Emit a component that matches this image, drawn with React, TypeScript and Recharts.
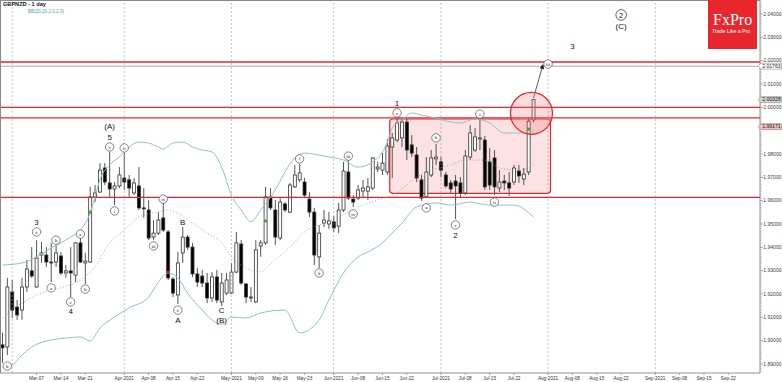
import React from 'react';
import { ComposedChart, Bar, Line, XAxis, YAxis, ReferenceLine, ReferenceArea, ReferenceDot } from 'recharts';

// daily sessions 25 Feb .. 30 Sep 2021 (the right half of the axis is still empty)
const sessions: string[] = [];
for (let t = Date.UTC(2021, 1, 25); sessions.length < 156; t += 86400000) {
  const wd = new Date(t).getUTCDay();
  if (wd !== 0 && wd !== 6) sessions.push(new Date(t).toISOString().slice(0, 10));
}

const opens = [1.8982,1.8973,1.9209,1.9144,1.9131,1.9230,1.9299,1.9230,1.9367,1.9367,
  1.9337,1.9337,1.9363,1.9290,1.9299,1.9281,1.9419,1.9333,1.9337,1.9616,
  1.9637,1.9740,1.9676,1.9650,1.9663,1.9697,1.9689,1.9633,1.9663,1.9569,
  1.9560,1.9444,1.9461,1.9526,1.9466,1.9264,1.9196,1.9376,1.9444,1.9401,
  1.9286,1.9277,1.9247,1.9183,1.9273,1.9166,1.9204,1.9204,1.9294,1.9414,
  1.9243,1.9183,1.9166,1.9406,1.9419,1.9616,1.9560,1.9440,1.9586,1.9551,
  1.9659,1.9689,1.9680,1.9607,1.9551,1.9359,1.9504,1.9500,1.9509,1.9491,
  1.9560,1.9723,1.9607,1.9611,1.9641,1.9641,1.9654,1.9736,1.9731,1.9723,
  1.9830,1.9860,1.9869,1.9937,1.9839,1.9796,1.9689,1.9616,1.9710,1.9779,
  1.9766,1.9710,1.9676,1.9684,1.9676,1.9633,1.9787,1.9817,1.9864,1.9860,
  1.9766,1.9783,1.9654,1.9684,1.9676,1.9680,1.9727,1.9693,1.9723,1.9946];
const highs = [1.9034,1.9269,1.9260,1.9174,1.9269,1.9346,1.9401,1.9431,1.9423,1.9401,
  1.9419,1.9410,1.9380,1.9324,1.9401,1.9423,1.9440,1.9376,1.9659,1.9667,
  1.9761,1.9761,1.9809,1.9680,1.9744,1.9804,1.9710,1.9697,1.9744,1.9654,
  1.9603,1.9517,1.9551,1.9590,1.9474,1.9273,1.9380,1.9487,1.9453,1.9419,
  1.9311,1.9303,1.9290,1.9294,1.9303,1.9290,1.9290,1.9333,1.9466,1.9431,
  1.9247,1.9230,1.9431,1.9431,1.9659,1.9654,1.9603,1.9611,1.9594,1.9676,
  1.9753,1.9757,1.9697,1.9637,1.9569,1.9496,1.9560,1.9551,1.9534,1.9590,
  1.9766,1.9774,1.9624,1.9667,1.9689,1.9697,1.9787,1.9766,1.9804,1.9864,
  1.9890,1.9954,1.9950,1.9950,1.9881,1.9830,1.9710,1.9787,1.9817,1.9843,
  1.9787,1.9723,1.9689,1.9710,1.9701,1.9817,1.9924,1.9911,1.9959,1.9877,
  1.9826,1.9817,1.9731,1.9710,1.9723,1.9753,1.9753,1.9740,1.9954,2.0036];
const lows = [1.8904,1.8939,1.9097,1.9089,1.9089,1.9209,1.9269,1.9226,1.9333,1.9316,
  1.9251,1.9316,1.9281,1.9269,1.9187,1.9251,1.9333,1.9243,1.9333,1.9594,
  1.9633,1.9667,1.9616,1.9581,1.9654,1.9646,1.9616,1.9624,1.9560,1.9526,
  1.9431,1.9431,1.9453,1.9466,1.9260,1.9187,1.9157,1.9333,1.9389,1.9273,
  1.9230,1.9230,1.9161,1.9166,1.9161,1.9148,1.9196,1.9200,1.9290,1.9239,
  1.9161,1.9166,1.9161,1.9359,1.9410,1.9560,1.9410,1.9431,1.9551,1.9547,
  1.9654,1.9680,1.9616,1.9530,1.9324,1.9311,1.9487,1.9479,1.9466,1.9461,
  1.9551,1.9603,1.9573,1.9603,1.9616,1.9603,1.9646,1.9723,1.9710,1.9710,
  1.9697,1.9851,1.9830,1.9774,1.9787,1.9680,1.9599,1.9611,1.9701,1.9753,
  1.9701,1.9654,1.9633,1.9521,1.9616,1.9624,1.9774,1.9809,1.9817,1.9646,
  1.9646,1.9624,1.9637,1.9646,1.9620,1.9667,1.9676,1.9667,1.9710,1.9935];
const closes = [1.8969,1.9230,1.9131,1.9110,1.9230,1.9307,1.9277,1.9354,1.9376,1.9337,
  1.9333,1.9376,1.9290,1.9299,1.9290,1.9419,1.9337,1.9341,1.9616,1.9633,
  1.9731,1.9680,1.9650,1.9663,1.9710,1.9680,1.9654,1.9676,1.9569,1.9565,
  1.9440,1.9461,1.9517,1.9474,1.9269,1.9204,1.9333,1.9444,1.9401,1.9286,
  1.9251,1.9247,1.9183,1.9273,1.9174,1.9247,1.9260,1.9294,1.9419,1.9247,
  1.9187,1.9187,1.9389,1.9419,1.9616,1.9569,1.9444,1.9594,1.9560,1.9667,
  1.9710,1.9719,1.9624,1.9551,1.9367,1.9461,1.9517,1.9513,1.9483,1.9560,
  1.9727,1.9611,1.9594,1.9646,1.9654,1.9659,1.9783,1.9744,1.9761,1.9834,
  1.9869,1.9933,1.9937,1.9817,1.9804,1.9697,1.9611,1.9723,1.9783,1.9787,
  1.9731,1.9663,1.9650,1.9663,1.9633,1.9791,1.9890,1.9873,1.9869,1.9659,
  1.9667,1.9659,1.9680,1.9676,1.9654,1.9740,1.9706,1.9714,1.9941,2.0033];

// Bollinger band readings: [session index, price]
const upperBand: [number, number][] = [[0,1.9324],[4,1.9333],[7,1.9359],[10,1.9397],[14,1.9444],[16,1.9474],[18,1.9547],[19,1.9616],[20,1.9689],[22,1.9753],[24,1.9787],[26,1.9830],[28,1.9851],[30,1.9847],[32,1.9830],[33,1.9821],[35,1.9847],[37,1.9851],[39,1.9830],[41,1.9817],[43,1.9809],[45,1.9744],[47,1.9624],[49,1.9560],[51,1.9509],[53,1.9560],[56,1.9646],[58,1.9723],[60,1.9783],[62,1.9804],[66,1.9791],[70,1.9774],[73,1.9744],[77,1.9783],[79,1.9851],[80,1.9911],[82,1.9946],[84,1.9976],[86,1.9967],[89,1.9954],[92,1.9937],[94,1.9933],[97,1.9950],[100,1.9933],[103,1.9890],[105,1.9890],[108,1.9890],[109,1.9903]];
const midBand: [number, number][] = [[0,1.9097],[4,1.9161],[8,1.9204],[12,1.9226],[16,1.9260],[19,1.9316],[22,1.9419],[25,1.9474],[28,1.9530],[32,1.9551],[34,1.9560],[36,1.9547],[39,1.9504],[42,1.9461],[45,1.9419],[47,1.9359],[50,1.9311],[53,1.9295],[55,1.9330],[59,1.9401],[62,1.9466],[66,1.9504],[70,1.9539],[73,1.9573],[77,1.9603],[80,1.9624],[83,1.9667],[85,1.9701],[88,1.9731],[92,1.9753],[95,1.9774],[99,1.9774],[102,1.9740],[106,1.9731],[109,1.9753]];
const lowerBand: [number, number][] = [[0,1.8887],[2,1.8896],[4,1.8939],[6,1.8973],[10,1.9003],[13,1.9011],[16,1.9016],[18,1.8999],[20,1.9054],[23,1.9101],[26,1.9140],[30,1.9187],[32,1.9251],[34,1.9290],[36,1.9269],[38,1.9204],[41,1.9131],[43,1.9089],[45,1.9071],[47,1.9101],[50,1.9097],[53,1.9119],[58,1.9131],[61,1.9033],[65,1.9089],[67,1.9174],[70,1.9290],[73,1.9359],[75,1.9380],[78,1.9419],[80,1.9461],[82,1.9504],[85,1.9573],[89,1.9590],[92,1.9581],[96,1.9594],[100,1.9581],[105,1.9581],[109,1.9530]];

const tickDays = ['2021-03-08','2021-03-15','2021-03-22','2021-04-01','2021-04-08','2021-04-15','2021-04-22','2021-05-03','2021-05-10','2021-05-17','2021-05-24','2021-06-01','2021-06-08','2021-06-15','2021-06-22','2021-07-01','2021-07-08','2021-07-15','2021-07-22','2021-08-02','2021-08-09','2021-08-16','2021-08-23','2021-09-01','2021-09-08','2021-09-15','2021-09-22'];
const tickNames = ['Mar-07','Mar-14','Mar-21','Apr-2021','Apr-08','Apr-15','Apr-22','May-2021','May-09','May-16','May-23','Jun-2021','Jun-08','Jun-15','Jun-22','Jul-2021','Jul-08','Jul-15','Jul-22','Aug-2021','Aug-08','Aug-15','Aug-22','Sep-2021','Sep-08','Sep-15','Sep-22'];
const monthStarts = ['2021-03-01','2021-04-01','2021-05-03','2021-06-01','2021-07-01','2021-08-02','2021-09-01'];

// 1.99000 sits under the 1.99171 tag, so it is left out
const priceTicks = [1.89,1.90,1.91,1.92,1.93,1.94,1.95,1.96,1.97,1.98,2.00,2.01,2.02,2.03,2.04];
const tagPrices = [2.01763, 2.00328, 1.99171];
const tagFills = ['#ffffff', '#d4d4d4', '#f3bcbc'];
const redLevels = [2.0194, 2.0, 1.9955, 1.9614];
const greyLevel = 2.01763;

// wave marks: [session index, price, text]
const ringMarks: [number, number, string][] = [
  [22,1.9830,'c'],[25,1.9826,'ii'],[23,1.9556,'i'],[33,1.9607,'iv'],[31,1.9406,'iii'],[36,1.9131,'v'],
  [7,1.9466,'c'],[11,1.9431,'b'],[16,1.9457,'a'],[10,1.9226,'a'],[14,1.9166,'c'],[17,1.9221,'b'],[1,1.8891,'b'],
  [61,1.9779,'i'],[81,1.9976,'v'],[71,1.9791,'iii'],[72,1.9543,'iv'],[65,1.9290,'ii'],
  [98,1.9971,'i'],[89,1.9869,'b'],[87,1.9569,'a'],[93,1.9496,'c'],[101,1.9594,'ii'],[112,2.0186,'iii'],
];
const waveTexts: [number, number, string][] = [
  [22,1.9920,'(A)'],[22,1.9873,'5'],[37,1.9509,'B'],[36,1.9089,'A'],[45,1.9131,'C'],[45,1.9089,'(B)'],
  [7,1.9509,'3'],[14,1.9127,'4'],[81,2.0019,'1'],[93,1.9453,'2'],[117,2.0263,'3'],[127,2.0349,'(C)'],
];
const bigRing: [number, number, string] = [127, 2.0396, '2'];
const greenSignals: [number, number][] = [[18,1.9551],[54,1.9513],[108,1.9907]];
const redSignals: [number, number][] = [[34,1.9294]];

const minorTicks: number[] = [];
for (let k = 1887; k <= 2045; k++) if (k % 10 !== 0) minorTicks.push(k / 1000);
const yTicks = [...minorTicks, ...priceTicks, ...tagPrices];

const bandAt = (pts: [number, number][], i: number) => {
  const hit = pts.find((p) => p[0] === i);
  return hit ? hit[1] : null;
};

const rows = sessions.map((d, i) => ({
  d,
  o: i < opens.length ? opens[i] : null,
  h: i < opens.length ? highs[i] : null,
  l: i < opens.length ? lows[i] : null,
  c: i < opens.length ? closes[i] : null,
  range: i < opens.length ? [lows[i], highs[i]] : null,
  ub: bandAt(upperBand, i),
  mb: bandAt(midBand, i),
  lb: bandAt(lowerBand, i),
}));

const FONT = 'Liberation Sans, Arial, sans-serif';

const Candle = (props: any) => {
  const { x, y, width, height, payload } = props;
  if (!payload || payload.o == null) return null;
  const { o, h, l, c } = payload;
  const top = Math.min(y, y + height);
  const hh = Math.abs(height);
  const py = (v: number) => (h === l ? top : top + ((h - v) / (h - l)) * hh);
  const cx = x + width / 2;
  const bt = py(Math.max(o, c));
  const bb = py(Math.min(o, c));
  return (
    <g>
      <line x1={cx} x2={cx} y1={top} y2={top + hh} stroke="#555" strokeWidth={1} />
      <rect x={x} y={bt} width={width} height={Math.max(bb - bt, 0.8)} fill={c >= o ? '#fff' : '#000'} stroke="#333" strokeWidth={0.8} />
    </g>
  );
};

const DayTick = (p: any) => {
  const { x, y, payload } = p;
  const k = tickDays.indexOf(payload.value);
  return (
    <g>
      <line x1={x} x2={x} y1={y} y2={y + 2} stroke="#777" strokeWidth={0.6} />
      <text x={x} y={y + 6.8} textAnchor="middle" fontSize={4.7} fontFamily={FONT} fill="#333">{k >= 0 ? tickNames[k] : ''}</text>
    </g>
  );
};

const PriceTick = (p: any) => {
  const { x, y, payload } = p;
  const v = payload.value;
  const t = tagPrices.indexOf(v);
  if (t >= 0) {
    return (
      <g>
        <path d={`M${x - 2},${y} L${x + 1},${y - 3} H${x + 21.5} V${y + 3} H${x + 1} Z`} fill={tagFills[t]} stroke="#777" strokeWidth={0.5} />
        <text x={x + 2.2} y={y + 1.8} fontSize={5.1} fontFamily={FONT} fill="#222">{v.toFixed(5)}</text>
      </g>
    );
  }
  if (priceTicks.includes(v)) {
    return (
      <g>
        <line x1={x} x2={x + 3} y1={y} y2={y} stroke="#666" strokeWidth={0.6} />
        <text x={x + 3.2} y={y + 1.8} fontSize={5.1} fontFamily={FONT} fill="#444">{v.toFixed(5)}</text>
      </g>
    );
  }
  return <line x1={x} x2={x + 1.6} y1={y} y2={y} stroke="#888" strokeWidth={0.5} />;
};

const ring = (txt: string) => (p: any) => (
  <g>
    <circle cx={p.cx} cy={p.cy} r={4.2} fill="#fff" stroke="#333" strokeWidth={0.6} />
    <text x={p.cx} y={p.cy + 1.6} textAnchor="middle" fontSize={5} fontFamily="Liberation Serif, serif" fill="#111">{txt}</text>
  </g>
);

const plainText = (txt: string) => (p: any) => (
  <text x={p.cx} y={p.cy + 2.8} textAnchor="middle" fontSize={8} fontFamily={FONT} fill="#111">{txt}</text>
);

const bigRingShape = (p: any) => (
  <g>
    <circle cx={p.cx} cy={p.cy} r={5.3} fill="#fff" stroke="#222" strokeWidth={0.7} />
    <text x={p.cx} y={p.cy + 2.6} textAnchor="middle" fontSize={7.5} fontFamily={FONT} fill="#111">{bigRing[2]}</text>
  </g>
);

const boxShape = (p: any) => (
  <rect x={p.x} y={p.y} width={p.width} height={p.height} rx={3} fill="rgba(238,110,110,0.2)" stroke="#e3262b" strokeWidth={1.2} />
);

const bubbleShape = (p: any) => (
  <circle cx={p.cx - 2} cy={p.cy} r={21} fill="rgba(238,110,110,0.25)" stroke="#e3262b" strokeWidth={1.2} />
);

const arrowShape = (p: any) => {
  const { x1, y1, x2, y2 } = p;
  const a = Math.atan2(y2 - y1, x2 - x1);
  const L = 5;
  const W = 2.2;
  const bx = x2 - L * Math.cos(a);
  const by = y2 - L * Math.sin(a);
  const pts = `${x2},${y2} ${bx + W * Math.sin(a)},${by - W * Math.cos(a)} ${bx - W * Math.sin(a)},${by + W * Math.cos(a)}`;
  return (
    <g>
      <line x1={x1} y1={y1} x2={bx} y2={by} stroke="#333" strokeWidth={0.8} />
      <polygon points={pts} fill="#111" />
    </g>
  );
};

const dotShape = (color: string) => (p: any) => <circle cx={p.cx} cy={p.cy} r={1.6} fill={color} />;

export default function App() {
  return (
    <div style={{ position: 'fixed', left: 0, top: 0, width: 782, height: 382, background: '#fff', fontFamily: FONT }}>
      <ComposedChart width={782} height={382} data={rows} margin={{ top: 0, right: 0, bottom: 0, left: 0 }}>
        <XAxis dataKey="d" ticks={tickDays} interval={0} tick={DayTick} tickSize={0} tickMargin={0} tickLine={false} height={9} axisLine={{ stroke: '#777', strokeWidth: 0.8 }} />
        <YAxis orientation="right" type="number" width={22} domain={[1.88614, 2.046]} allowDataOverflow ticks={yTicks} interval={0} tick={PriceTick} tickSize={0} tickMargin={0} tickLine={false} axisLine={{ stroke: '#777', strokeWidth: 0.8 }} />

        {monthStarts.map((m) => (
          <ReferenceLine key={m} x={m} stroke="#9a9a9a" strokeWidth={0.6} strokeDasharray="2 2" />
        ))}

        <ReferenceArea x1={sessions[80]} x2={sessions[112]} y1={1.96316} y2={1.995} shape={boxShape} />
        <ReferenceDot x={sessions[109]} y={1.99744} r={21} shape={bubbleShape} />

        {redLevels.map((v) => (
          <ReferenceLine key={v} y={v} stroke="#e3262b" strokeWidth={1.4} />
        ))}
        <ReferenceLine y={greyLevel} stroke="#a0a0a0" strokeWidth={0.9} />

        <Line dataKey="ub" type="monotone" stroke="#8cc4c4" strokeWidth={1} dot={false} activeDot={false} connectNulls isAnimationActive={false} />
        <Line dataKey="lb" type="monotone" stroke="#8cc4c4" strokeWidth={1} dot={false} activeDot={false} connectNulls isAnimationActive={false} />
        <Line dataKey="mb" type="monotone" stroke="#8a9898" strokeWidth={0.8} strokeDasharray="1 2" dot={false} activeDot={false} connectNulls isAnimationActive={false} />

        <Bar dataKey="range" barSize={3} shape={Candle} isAnimationActive={false} />

        <ReferenceLine
          segment={[{ x: sessions[109], y: 2.004 }, { x: sessions[111], y: 2.0186 }]}
          shape={arrowShape}
        />

        {greenSignals.map(([i, v]) => (
          <ReferenceDot key={'g' + i} x={sessions[i]} y={v} r={1.6} shape={dotShape('#3aa53a')} />
        ))}
        {redSignals.map(([i, v]) => (
          <ReferenceDot key={'r' + i} x={sessions[i]} y={v} r={1.6} shape={dotShape('#d42020')} />
        ))}

        {ringMarks.map(([i, v, t], k) => (
          <ReferenceDot key={'m' + k} x={sessions[i]} y={v} r={4} shape={ring(t)} />
        ))}
        {waveTexts.map(([i, v, t], k) => (
          <ReferenceDot key={'t' + k} x={sessions[i]} y={v} r={4} shape={plainText(t)} />
        ))}
        <ReferenceDot x={sessions[bigRing[0]]} y={bigRing[1]} r={5} shape={bigRingShape} />
      </ComposedChart>

      <div style={{ position: 'absolute', left: 0, top: 0, width: 760, height: 373, borderLeft: '1px solid #888', borderTop: '1px solid #888', boxSizing: 'border-box', pointerEvents: 'none' }} />
      <div style={{ position: 'absolute', left: 3, top: 2, fontSize: 5.6, fontWeight: 700, lineHeight: 1, color: '#111' }}>GBPNZD - 1 day</div>
      <div style={{ position: 'absolute', left: 28, top: 10, fontSize: 4.6, lineHeight: 1, color: '#4aa6a6' }}>BB(20,20,2.0,2.0)</div>
      <div style={{ position: 'absolute', left: 708, top: 0, width: 49, height: 49, background: '#e8272d' }}>
        <div style={{ position: 'absolute', left: 5, top: 12, fontSize: 16, lineHeight: 1, color: '#fff', fontFamily: 'Liberation Serif, serif' }}>FxPro</div>
        <div style={{ position: 'absolute', left: 4, top: 29, fontSize: 5.2, lineHeight: 1, color: '#fff', whiteSpace: 'nowrap' }}>Trade Like a Pro</div>
      </div>
    </div>
  );
}
